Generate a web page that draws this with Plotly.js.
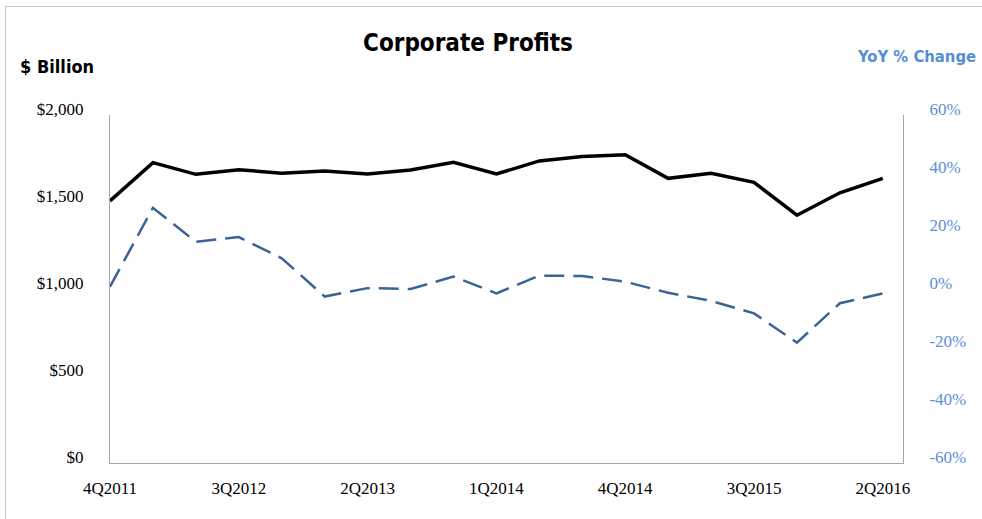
<!DOCTYPE html>
<html>
<head>
<meta charset="utf-8">
<script src="https://cdn.plot.ly/plotly-3.0.1.min.js"></script>
<style>
  html, body { margin: 0; padding: 0; background: #fff; overflow: hidden; }
  #chart { position: absolute; left: 0; top: 0; width: 982px; height: 519px; }
  #frame { position: absolute; left: 5px; top: 6px; width: 1000px; height: 600px;
           border-left: 1px solid #c8c8c8; border-top: 1px solid #c8c8c8; pointer-events: none; }
</style>
</head>
<body>
<div id="chart"></div>
<div id="frame"></div>
<script>
const quarters = ["4Q2011","1Q2012","2Q2012","3Q2012","4Q2012","1Q2013","2Q2013","3Q2013","4Q2013",
  "1Q2014","2Q2014","3Q2014","4Q2014","1Q2015","2Q2015","3Q2015","4Q2015","1Q2016","2Q2016"];
const profits = [1506,1726,1659,1686,1665,1678,1661,1684,1728,1661,1736,1761,1772,1636,1665,1613,1424,1553,1636];
const yoyChange = [0.8,28.0,16.3,17.9,10.6,-2.6,0.3,0.0,4.3,-1.5,4.6,4.5,2.5,-1.3,-4.1,-8.4,-18.5,-4.9,-1.5];
const xTickLabels = ["4Q2011","3Q2012","2Q2013","1Q2014","4Q2014","3Q2015","2Q2016"];
const leftTicks = [0,500,1000,1500,2000];
const leftTickText = ["$0","$500","$1,000","$1,500","$2,000"];
const rightTicks = [-60,-40,-20,0,20,40,60];
const rightTickText = ["-60%","-40%","-20%","0%","20%","40%","60%"];

const idx = quarters.map((q, i) => i);
const xTickVals = xTickLabels.map(l => quarters.indexOf(l));

const serif = "Liberation Serif, DejaVu Serif, serif";
const narrow = "DejaVu Sans Condensed, Liberation Sans Narrow, sans-serif";

const traces = [
  { x: idx, y: profits, type: "scatter", mode: "lines", name: "Corporate Profits",
    line: { color: "#000000", width: 3.5 }, yaxis: "y", hoverinfo: "skip" },
  { x: idx, y: yoyChange, type: "scatter", mode: "lines", name: "YoY % Change",
    line: { color: "#3A6496", width: 2.5, dash: "20px,9px" }, yaxis: "y2", hoverinfo: "skip" }
];

const layout = {
  width: 982, height: 519,
  margin: { l: 110, r: 79, t: 115, b: 56 },
  paper_bgcolor: "#ffffff", plot_bgcolor: "#ffffff",
  showlegend: false,
  title: { text: "<b>Corporate Profits</b>", font: { family: narrow, size: 24, color: "#000" },
           x: 468/982, xanchor: "center", xref: "container", y: 1 - 43/519, yanchor: "middle", yref: "container" },
  xaxis: {
    range: [0, 18.47], showgrid: false, zeroline: false,
    showline: true, linecolor: "#a6a6a6", linewidth: 1,
    tickmode: "array", tickvals: xTickVals, ticktext: xTickLabels, ticks: "",
    tickfont: { family: serif, size: 17, color: "#000" }, ticklabelstandoff: 10
  },
  yaxis: {
    range: [0, 2000], showgrid: false, zeroline: false,
    showline: true, linecolor: "#a6a6a6", linewidth: 1,
    tickmode: "array", tickvals: leftTicks, ticktext: leftTickText, ticks: "",
    tickfont: { family: serif, size: 17, color: "#000" }, ticklabelstandoff: 22, ticklabelshift: -6
  },
  yaxis2: {
    range: [-60, 60], overlaying: "y", side: "right", showgrid: false, zeroline: false,
    showline: true, linecolor: "#a6a6a6", linewidth: 1,
    tickmode: "array", tickvals: rightTicks, ticktext: rightTickText, ticks: "",
    tickfont: { family: serif, size: 17, color: "#5B8FD6" }, ticklabelstandoff: 22, ticklabelshift: -6
  },
  annotations: [
    { text: "<b>$ Billion</b>", xref: "paper", yref: "paper", x: (18-110)/793, y: (463-67)/348,
      xanchor: "left", yanchor: "middle", showarrow: false, font: { family: narrow, size: 18, color: "#000" } },
    { text: "<b>YoY % Change</b>", xref: "paper", yref: "paper", x: (855-110)/793, y: (463-56)/348,
      xanchor: "left", yanchor: "middle", showarrow: false, font: { family: narrow, size: 16.5, color: "#558ED5" } }
  ]
};

Plotly.newPlot("chart", traces, layout, { displayModeBar: false, staticPlot: true });
</script>
</body>
</html>
